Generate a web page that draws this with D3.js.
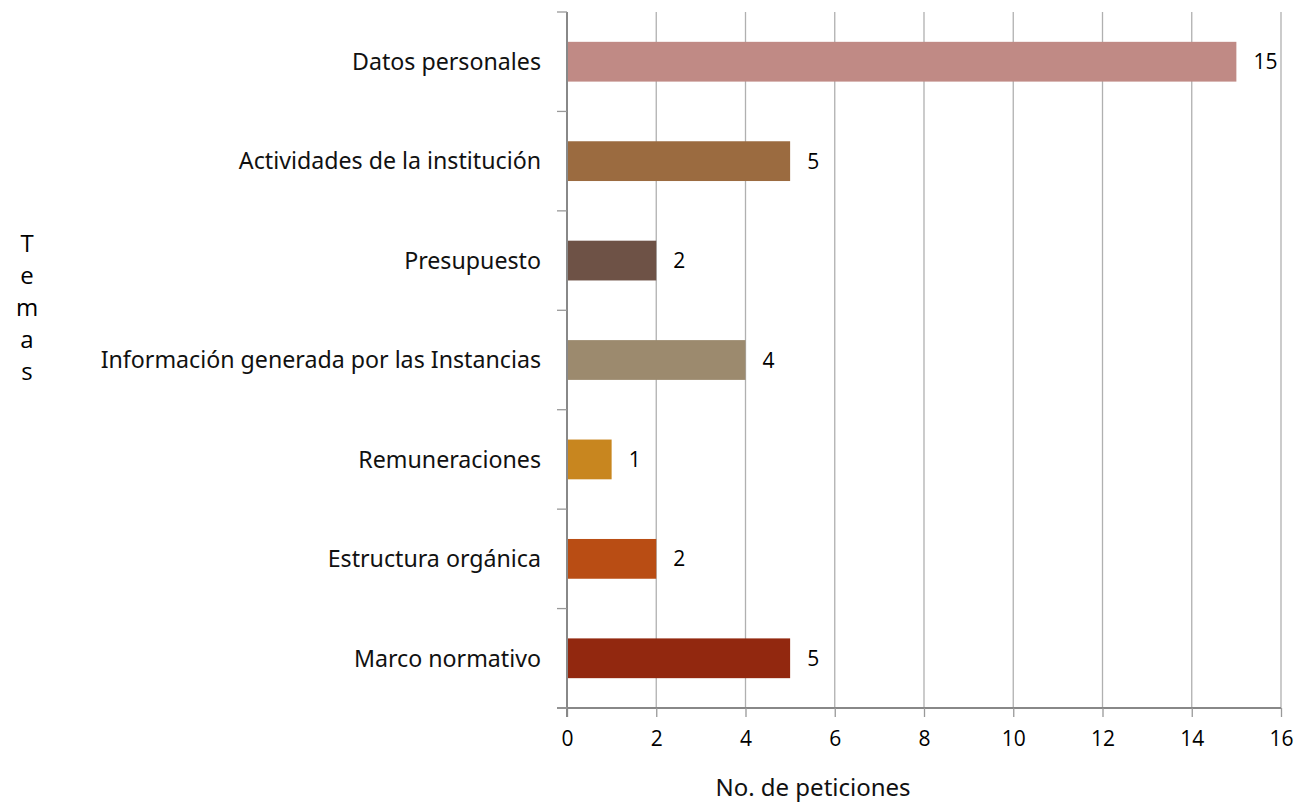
<!DOCTYPE html>
<html><head><meta charset="utf-8">
<script src="https://cdn.jsdelivr.net/npm/d3@7"></script>
<style>body{margin:0;background:#fff;} svg{display:block;}</style>
</head><body>
<svg id="chart" width="1298" height="804"></svg>
<script>
const categories = ["Datos personales","Actividades de la institución","Presupuesto","Información generada por las Instancias","Remuneraciones","Estructura orgánica","Marco normativo"];
const values = [15,5,2,4,1,2,5];
const colors = ["#C08A85","#9B6B40","#6E5246","#9C8A6E","#C8861F","#B94D14","#92280F"];
const xTicks = [0,2,4,6,8,10,12,14,16];
const xTitle = "No. de peticiones";
const yTitle = "Temas";

(function(){
const svg = d3.select("#chart");
const pL = 567, pR = 1281, pT = 12, pB = 708;
const catFont = "'Noto Sans', sans-serif";
const numFont = "'Open Sans', sans-serif";
const x = d3.scaleLinear().domain([0,16]).range([pL,pR]);
const y = d3.scaleBand().domain(categories).range([pT,pB]).paddingInner(0.6).paddingOuter(0.3);

// gridlines
svg.append("g").selectAll("line").data(xTicks.filter(d=>d>0)).join("line")
  .attr("x1",d=>x(d)).attr("x2",d=>x(d)).attr("y1",pT).attr("y2",pB)
  .attr("stroke","#b0b0b0").attr("stroke-width",1.3);

// bars
svg.append("g").selectAll("rect").data(categories).join("rect")
  .attr("x",x(0)).attr("y",d=>y(d)).attr("height",y.bandwidth())
  .attr("width",(d,i)=>x(values[i])-x(0)).attr("fill",(d,i)=>colors[i]);

// value labels
svg.append("g").selectAll("text").data(categories).join("text")
  .attr("x",(d,i)=>x(values[i])+17).attr("y",d=>y(d)+y.bandwidth()/2)
  .attr("dy","0.36em").attr("font-family",numFont).attr("font-size",21).attr("fill","#000")
  .text((d,i)=>values[i]);

// x axis
const xAxis = d3.axisBottom(x).tickValues(xTicks).tickSize(9).tickPadding(14);
const gx = svg.append("g").attr("transform",`translate(0,${pB})`).call(xAxis);
gx.select(".domain").attr("stroke","#888").attr("stroke-width",2).attr("d",`M${pL-10},0H${pR}`);
gx.selectAll(".tick line").attr("stroke","#999").attr("stroke-width",1.3);
gx.selectAll(".tick text").attr("font-family",numFont).attr("font-size",21).attr("fill","#000");

// y axis
const yEdges = d3.range(categories.length+1).map(i=>pT+(pB-pT)*i/categories.length);
const gy = svg.append("g");
gy.append("line").attr("x1",pL).attr("x2",pL).attr("y1",pT).attr("y2",pB+9).attr("stroke","#888").attr("stroke-width",2);
gy.selectAll("line.t").data(yEdges).join("line").attr("class","t")
  .attr("x1",pL-10).attr("x2",pL).attr("y1",d=>d).attr("y2",d=>d).attr("stroke","#999").attr("stroke-width",1.3);
gy.selectAll("text").data(categories).join("text")
  .attr("x",pL-26).attr("y",d=>y(d)+y.bandwidth()/2).attr("dy","0.36em").attr("text-anchor","end")
  .attr("font-family",catFont).attr("font-size",23.2).attr("fill","#111").text(d=>d);

// x title
svg.append("text").attr("x",813).attr("y",796).attr("text-anchor","middle")
  .attr("font-family",catFont).attr("font-size",24).attr("fill","#111").text(xTitle);

// y title vertical letters
svg.append("g").selectAll("text").data(yTitle.split("")).join("text")
  .attr("x",27).attr("y",(d,i)=>252+i*32).attr("text-anchor","middle")
  .attr("font-family",numFont).attr("font-size",24).attr("fill","#000").text(d=>d);
})();
</script>
</body></html>
